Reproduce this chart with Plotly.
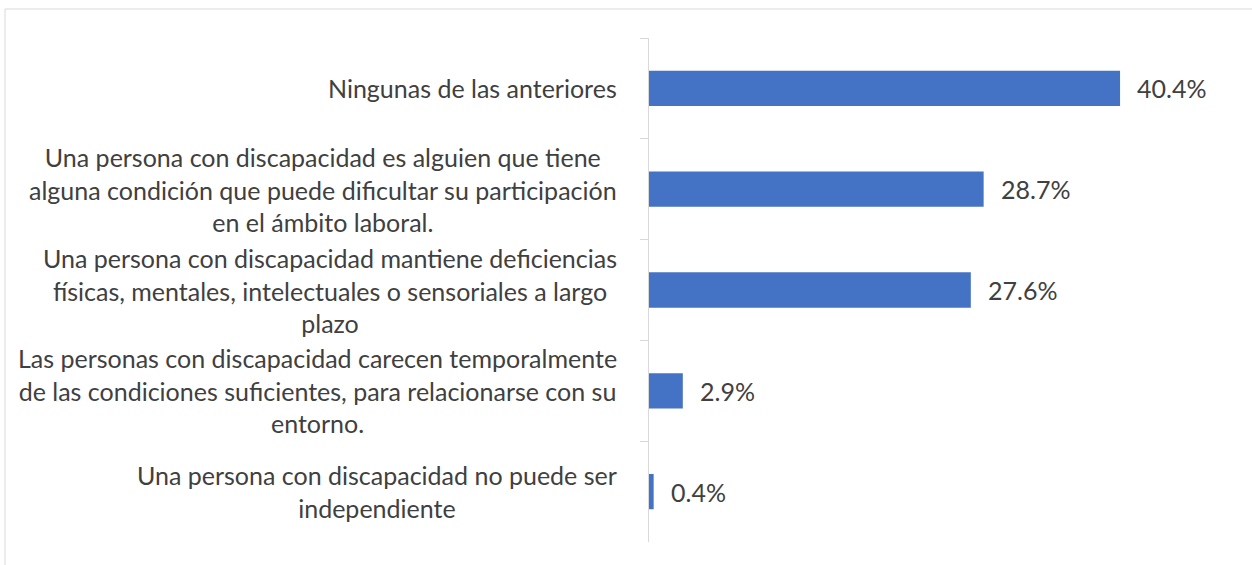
import plotly.graph_objects as go

categories = [
    "Ningunas de las anteriores",
    "Una persona con discapacidad es alguien que tiene<br>alguna condición que puede dificultar su participación<br>en el ámbito laboral.",
    "Una persona con discapacidad mantiene deficiencias<br>físicas, mentales, intelectuales o sensoriales a largo<br>plazo",
    "Las personas con discapacidad carecen temporalmente<br>de las condiciones suficientes, para relacionarse con su<br>entorno.",
    "Una persona con discapacidad no puede ser<br>independiente",
]
values = [40.4, 28.7, 27.6, 2.9, 0.4]
value_labels = ["40.4%", "28.7%", "27.6%", "2.9%", "0.4%"]

FONT = "Lato"
TXT = "#404040"
W, H = 1252, 565
L, R, T, B = 649, 20, 38, 23
pw, ph = W - L - R, H - T - B

fig = go.Figure()
fig.add_trace(go.Bar(
    x=values, y=categories, orientation="h",
    marker=dict(color="#4472C4", line=dict(width=0)),
    hoverinfo="skip",
))

# category labels, centred lines, right side next to axis
for cat in categories:
    fig.add_annotation(
        x=0, xref="paper", y=cat, yref="y",
        text=cat, showarrow=False, xanchor="right", xshift=-30,
        align="center", font=dict(family=FONT, size=25, color=TXT),
    )

# value labels
for v, lab, cat in zip(values, value_labels, categories):
    fig.add_annotation(
        x=v, y=cat, text=lab, showarrow=False, xanchor="left", xshift=15,
        font=dict(family=FONT, size=25, color=TXT),
    )

# chart border (left and top only visible)
def px_x(px):
    return (px - L) / pw

def px_y(py):
    return (H - B - py) / ph

fig.add_shape(type="line", xref="paper", yref="paper",
              x0=px_x(5), x1=px_x(W + 5), y0=px_y(9), y1=px_y(9),
              line=dict(color="#d9d9d9", width=1))
fig.add_shape(type="line", xref="paper", yref="paper",
              x0=px_x(5), x1=px_x(5), y0=px_y(9), y1=px_y(H + 5),
              line=dict(color="#d9d9d9", width=1))

fig.update_layout(
    width=W, height=H,
    margin=dict(l=L, r=R, t=T, b=B),
    paper_bgcolor="white", plot_bgcolor="white",
    bargap=0.65, showlegend=False,
)
fig.update_xaxes(range=[0, 50], visible=False)
fig.update_yaxes(
    autorange="reversed", showticklabels=False,
    showline=True, linecolor="#d9d9d9", linewidth=1,
    ticks="outside", ticklen=8, tickcolor="#d9d9d9",
    tickson="boundaries", showgrid=False, zeroline=False,
)

fig.write_html("out.html", config={"displayModeBar": False},
               post_script="document.body.style.margin='0';")
